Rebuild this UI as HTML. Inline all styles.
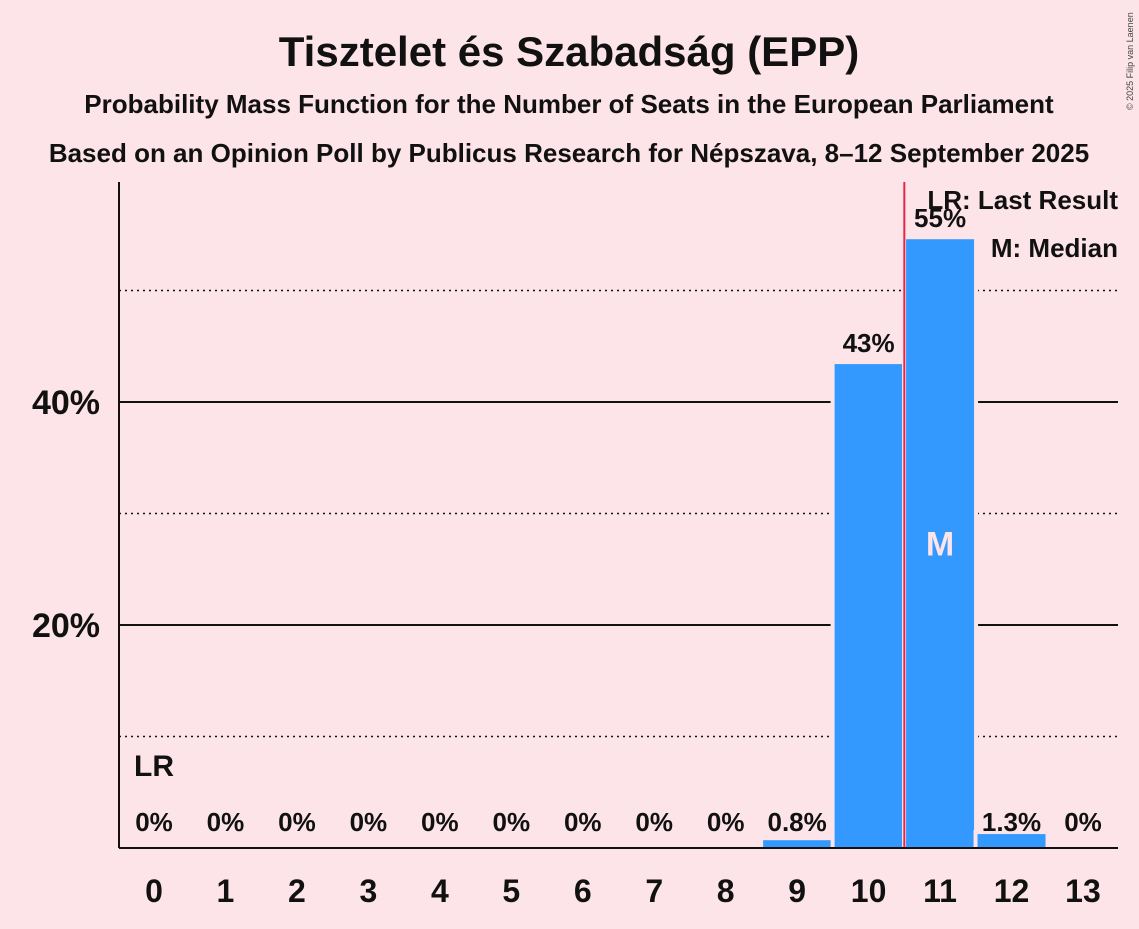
<!DOCTYPE html>
<html><head><meta charset="utf-8"><style>
body{margin:0;background:#fce4e8;font-family:"Liberation Sans",sans-serif;}
svg text{font-family:"Liberation Sans",sans-serif;fill:#111;}
</style></head><body>
<svg width="1139" height="924" xmlns="http://www.w3.org/2000/svg">
<rect width="1139" height="924" fill="#fce4e8"/>
<text x="569" y="66" text-anchor="middle" font-size="42" font-weight="bold">Tisztelet és Szabadság (EPP)</text>
<text x="569" y="113" text-anchor="middle" font-size="26" font-weight="bold">Probability Mass Function for the Number of Seats in the European Parliament</text>
<text x="569" y="162" text-anchor="middle" font-size="26" font-weight="bold">Based on an Opinion Poll by Publicus Research for Népszava, 8–12 September 2025</text>
<text x="1133" y="110" font-size="9" transform="rotate(-90 1133 110)" style="fill:#444">© 2025 Filip van Laenen</text>
<g id="grid"></g>
<g id="bars"></g>
<g id="labels"></g>
<line x1="119" y1="182" x2="119" y2="848" stroke="#111" stroke-width="2"/>
<line x1="119" y1="848" x2="1118" y2="848" stroke="#111" stroke-width="2"/>
<text x="1118" y="209" text-anchor="end" font-size="26" font-weight="bold">LR: Last Result</text>
<text x="1118" y="257" text-anchor="end" font-size="26" font-weight="bold">M: Median</text>
</svg>
<script>
const categories=[0,1,2,3,4,5,6,7,8,9,10,11,12,13];
const values=[0,0,0,0,0,0,0,0,0,0.7,43.4,54.6,1.25,0];
const valueLabels=["0%","0%","0%","0%","0%","0%","0%","0%","0%","0.8%","43%","55%","1.3%","0%"];
const yTicks=[20,40];
const yDotted=[10,30,50];
const lastResult=0;
const median=11;
const NS="http://www.w3.org/2000/svg";
const y=v=>848-v*11.15;
const x=c=>154+c*71.46;
const bw=68;
function mk(tag,attrs,parent,txt){const e=document.createElementNS(NS,tag);for(const k in attrs)e.setAttribute(k,attrs[k]);if(txt!==undefined)e.textContent=txt;parent.appendChild(e);return e;}
const grid=document.getElementById('grid'),bars=document.getElementById('bars'),labels=document.getElementById('labels');
yDotted.forEach(t=>{const l=mk('line',{x1:119,x2:1118,y1:y(t),y2:y(t),stroke:'#111','stroke-width':1.5,'stroke-dasharray':'2,4'},grid);

});
yTicks.forEach(t=>{const l=mk('line',{x1:119,x2:1118,y1:y(t),y2:y(t),stroke:'#111','stroke-width':2},grid);


const tx=mk('text',{x:100,y:y(t)+12,'text-anchor':'end','font-size':34,'font-weight':'bold'},labels,t+'%');

});
categories.forEach((c,i)=>{
 const v=values[i];
 if(v>0){
  const bg=mk('rect',{x:x(c)-bw/2-4,y:y(v)-4,width:bw+8,height:848-y(v)+4,fill:'#fce4e8'},bars);
  
  
  const r=mk('rect',{x:x(c)-bw/2,y:y(v),width:bw,height:848-y(v),fill:'#3399ff'},bars);
  
  
 }
 const lt=mk('text',{x:x(c),y:y(v)-12,'text-anchor':'middle','font-size':26,'font-weight':'bold'},labels,valueLabels[i]);
 if(v<2) lt.setAttribute('y',831);
 
 
 const xt=mk('text',{x:x(c),y:902,'text-anchor':'middle','font-size':32,'font-weight':'bold'},labels,String(c));
 
 
});
const lrT=mk('text',{x:x(lastResult),y:776,'text-anchor':'middle','font-size':30,'font-weight':'bold'},labels,'LR');


const mi=categories.indexOf(median);
const mT=mk('text',{x:x(median),y:(y(values[mi])+848)/2+12,'text-anchor':'middle','font-size':34,'font-weight':'bold',style:'fill:#fce4e8'},labels,'M');


const rl=mk('line',{x1:x(10.5),x2:x(10.5),y1:182,y2:848,stroke:'#e0284a','stroke-width':2},labels);


</script>
</body></html>
